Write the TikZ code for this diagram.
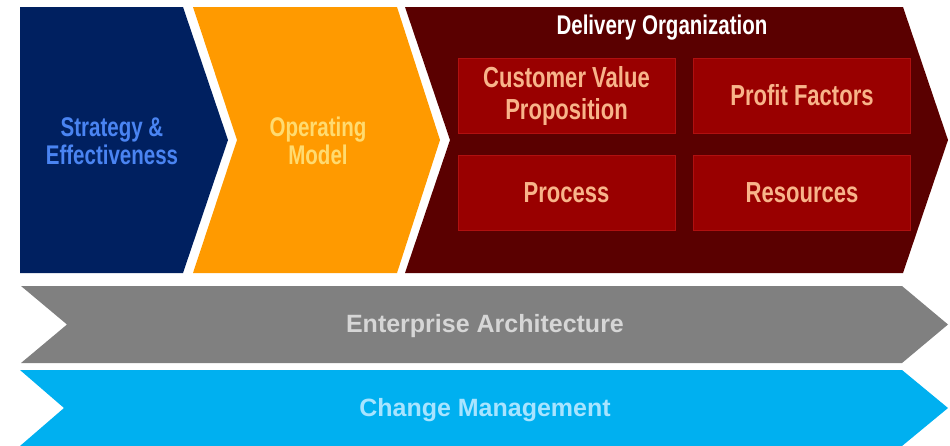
\documentclass[tikz,border=0pt]{standalone}
\usepackage{fontspec}
\setmainfont{Liberation Sans}[FakeStretch=0.76]
\newfontfamily\bandfont{Liberation Sans}
\usetikzlibrary{positioning}
\definecolor{navy}{HTML}{002060}
\definecolor{navytext}{HTML}{4A84F2}
\definecolor{amber}{HTML}{FF9A00}
\definecolor{ambertext}{HTML}{FFDB70}
\definecolor{maroon}{HTML}{5A0000}
\definecolor{boxred}{HTML}{990000}
\definecolor{boxedge}{HTML}{B01010}
\definecolor{peach}{HTML}{F8B48A}
\definecolor{eagrey}{HTML}{808080}
\definecolor{eatext}{HTML}{D6D6D6}
\definecolor{cmcyan}{HTML}{00B0F0}
\definecolor{cmtext}{HTML}{A8E4FF}

\begin{document}
\begin{tikzpicture}[x=1pt, y=-1pt,
  lbl/.style={font=\bfseries\fontsize{27}{28}\selectfont, align=center},
  band/.style={font=\bandfont\bfseries\fontsize{25}{28}\selectfont},
  part/.style={draw=boxedge, fill=boxred, line width=0.8pt, text=peach, minimum width=217pt, minimum height=75pt, align=center, font=\bfseries\fontsize{29}{32}\selectfont}]
\useasboundingbox (0,0) rectangle (950,445);
\fill[navy] (20,7) -- (183,7) -- (228,140) -- (183,273) -- (20,273) -- cycle;
\fill[amber] (193,7) -- (397,7) -- (440,140) -- (397,273) -- (193,273) -- (237,140) -- cycle;
\fill[maroon] (405,7) -- (903,7) -- (948,140) -- (903,273) -- (405,273) -- (450,140) -- cycle;
\fill[eagrey] (21,286) -- (902,286) -- (948,324.5) -- (902,363) -- (21,363) -- (67,324.5) -- cycle;
\fill[cmcyan] (20,370) -- (902,370) -- (948,408) -- (902,446) -- (20,446) -- (64,408) -- cycle;
\node[lbl, text=navytext] (strat) at (112,141) {Strategy \&\\Effectiveness};
\node[lbl, text=ambertext] (opmodel) at (318,141) {Operating\\Model};
\node[lbl, text=white] (delivery) at (662,28) {Delivery Organization};
\node[part] (cvp) at (566.5,95.5) {Customer Value\\Proposition};
\node[part] (profit) at (802,95.5) {Profit Factors};
\node[part] (process) at (566.5,192.5) {Process};
\node[part] (resources) at (802,192.5) {Resources};
\node[band, text=eatext] (ea) at (485,326) {Enterprise Architecture};
\node[band, text=cmtext] (cm) at (485,410) {Change Management};
\end{tikzpicture}
\end{document}
